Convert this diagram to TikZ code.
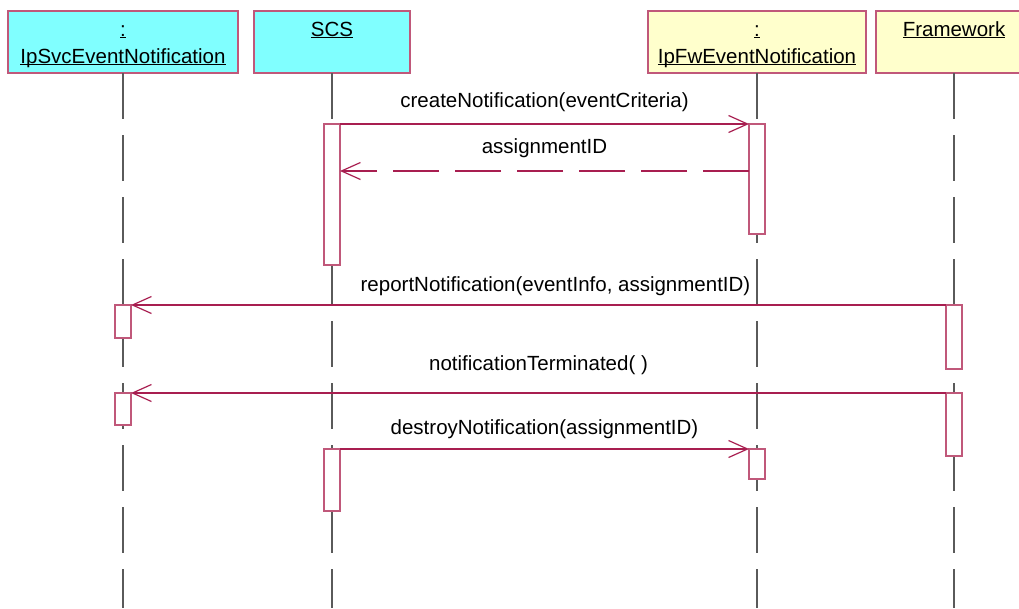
\documentclass[tikz,border=0pt]{standalone}
\usepackage{fontspec}
\setmainfont{Liberation Sans}
\usetikzlibrary{arrows.meta,positioning}
\definecolor{cObj}{HTML}{80FFFF}
\definecolor{cFw}{HTML}{FFFFCC}
\definecolor{cEdge}{HTML}{C0587A}
\definecolor{cMsg}{HTML}{A81E50}
\definecolor{cLife}{HTML}{5A5A5A}
\newcommand{\ulname}[1]{\underline{\smash{#1}}}

\begin{document}
\begin{tikzpicture}[x=1pt, y=-1pt, font=\fontsize{20.5}{27}\selectfont,
  header/.style={draw=cEdge, line width=1.3pt, anchor=north, align=center, inner sep=0pt,
                 outer sep=0pt, minimum height=62pt, text height=25pt, text depth=37pt},
  header2/.style={header, text height=52pt, text depth=10pt},
  act/.style={draw=cEdge, fill=white, line width=1.3pt, anchor=north, inner sep=0pt,
              outer sep=0pt, minimum width=16pt},
  life/.style={draw=cLife, line width=1.1pt, dash pattern=on 46pt off 16pt},
  msg/.style={draw=cMsg, line width=1.2pt, -{Straight Barb[length=19pt, width=17pt, line width=1.2pt]}},
  ret/.style={msg, dash pattern=on 46pt off 16pt},
  lbl/.style={anchor=base, inner sep=0pt}]

  \useasboundingbox (0,0) rectangle (1019,608);
  \clip (0,0) rectangle (1019,608);

  % objects
  \node[header2, fill=cObj, minimum width=230pt] (svc) at (123,11)
     {\ulname{:}\\\ulname{IpSvcEventNotification}};
  \node[header, fill=cObj, minimum width=156pt] (scs) at (332,11) {\ulname{SCS}};
  \node[header2, fill=cFw, minimum width=218pt] (fwe) at (757,11)
     {\ulname{:}\\\ulname{IpFwEventNotification}};
  \node[header, fill=cFw, minimum width=156pt] (fw) at (954,11) {\ulname{Framework}};

  % lifelines
  \foreach \obj in {svc,scs,fwe,fw}
    \draw[life] (\obj.south) -- (\obj.south |- 0,608);

  % activations
  \node[act, minimum height=141pt] (scsA) at (scs |- 0,124) {};
  \node[act, minimum height=110pt] (fweA) at (fwe |- 0,124) {};
  \node[act, minimum height=33pt] (svcA) at (svc |- 0,305) {};
  \node[act, minimum height=64pt] (fwA) at (fw |- 0,305) {};
  \node[act, minimum height=32pt] (svcB) at (svc |- 0,393) {};
  \node[act, minimum height=63pt] (fwB) at (fw |- 0,393) {};
  \node[act, minimum height=62pt] (scsB) at (scs |- 0,449) {};
  \node[act, minimum height=30pt] (fweB) at (fwe |- 0,449) {};

  % messages
  \draw[msg] (scsA.north east) -- node[lbl, yshift=17pt] {createNotification(eventCriteria)} (fweA.north west);
  \draw[ret] (fweA.west |- 0,171) -- node[lbl, yshift=18pt] {assignmentID} (scsA.east |- 0,171);
  \draw[msg] (fwA.north west) -- node[lbl, yshift=14pt, xshift=17pt] {reportNotification(eventInfo, assignmentID)} (svcA.north east);
  \draw[msg] (fwB.north west) -- node[lbl, yshift=23pt] {notificationTerminated( )} (svcB.north east);
  \draw[msg] (scsB.north east) -- node[lbl, yshift=15pt] {destroyNotification(assignmentID)} (fweB.north west);
\end{tikzpicture}
\end{document}
